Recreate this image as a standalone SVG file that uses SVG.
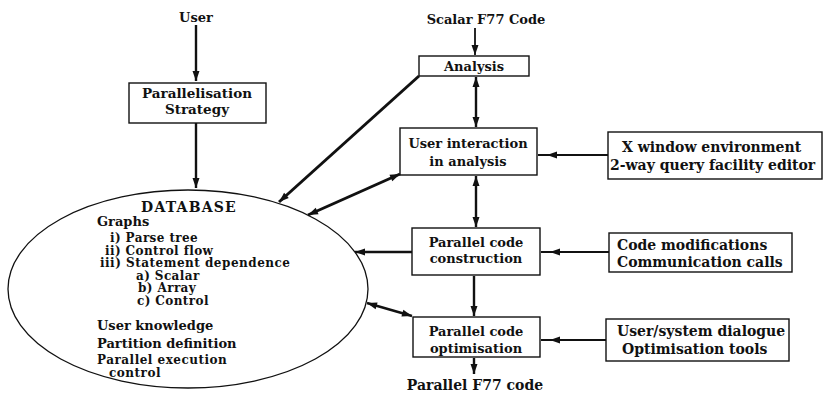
<svg xmlns="http://www.w3.org/2000/svg" width="824" height="395" viewBox="0 0 824 395">
<style>
text{font-family:"DejaVu Serif","Liberation Serif",serif;font-weight:bold;font-size:13px;fill:#111}
.c{text-anchor:middle}
.r{font-size:14px}
.d{font-size:12px}
.box{fill:#fff;stroke:#111;stroke-width:1.4}
.ell{fill:none;stroke:#111;stroke-width:1.3}
.ln{fill:none;stroke:#111;stroke-width:2.4}
.th{fill:none;stroke:#111;stroke-width:3}
.tn{fill:none;stroke:#111;stroke-width:1.8}
</style>
<defs>
<marker id="a" markerUnits="userSpaceOnUse" markerWidth="12" markerHeight="10" viewBox="0 0 12 10" refX="11" refY="5" orient="auto-start-reverse"><path d="M1,1.5 L11,5 L1,8.5 z" fill="#111"/></marker>
<marker id="ao" markerUnits="userSpaceOnUse" markerWidth="22" markerHeight="10" viewBox="0 0 22 10" refX="20" refY="5" orient="auto"><path d="M1,1.5 L11,5 L1,8.5 z" fill="#111"/></marker>
</defs>
<g id="connectors">
<line class="ln" x1="196" y1="25" x2="196" y2="81" marker-end="url(#a)"/>
<line class="ln" x1="196" y1="123" x2="196" y2="188" marker-end="url(#a)"/>
<line class="tn" x1="475" y1="28" x2="475" y2="55" marker-end="url(#a)"/>
<line class="ln" x1="476" y1="77" x2="476" y2="127" marker-start="url(#a)" marker-end="url(#a)"/>
<line class="ln" x1="476" y1="176" x2="476" y2="227" marker-start="url(#a)" marker-end="url(#a)"/>
<line class="ln" x1="474" y1="276" x2="474" y2="316" marker-end="url(#a)"/>
<line class="ln" x1="474" y1="358" x2="474" y2="374" marker-end="url(#a)"/>
<line class="th" x1="419" y1="76" x2="279" y2="202" marker-end="url(#a)"/>
<line class="th" x1="400" y1="174" x2="308" y2="215" marker-start="url(#a)" marker-end="url(#a)"/>
<line class="ln" x1="412" y1="252" x2="355" y2="252" marker-end="url(#a)"/>
<line class="ln" x1="367" y1="303" x2="412" y2="316" marker-start="url(#a)" marker-end="url(#a)"/>
<line class="tn" x1="608" y1="155" x2="538" y2="155" marker-end="url(#ao)"/>
<line class="tn" x1="609" y1="252" x2="541" y2="252" marker-end="url(#ao)"/>
<line class="tn" x1="606" y1="340" x2="541" y2="340" marker-end="url(#ao)"/>
</g>
<g id="user"><text class="c" x="196" y="22">User</text></g>
<g id="scalar"><text class="c" x="486" y="24">Scalar F77 Code</text></g>
<g id="strategy"><rect class="box" x="129" y="83" width="137" height="40"/><text class="c" x="197" y="98" style="font-size:13.5px">Parallelisation</text><text class="c" x="197" y="114" style="font-size:13.5px">Strategy</text></g>
<g id="analysis"><rect class="box" x="419" y="56" width="110" height="20"/><text class="c" x="474" y="71">Analysis</text></g>
<g id="userint"><rect class="box" x="400" y="128" width="137" height="47"/><text class="c" x="468" y="148">User interaction</text><text class="c" x="468" y="166">in analysis</text></g>
<g id="construct"><rect class="box" x="412" y="228" width="128" height="47"/><text class="c" x="476" y="247">Parallel code</text><text class="c" x="476" y="263">construction</text></g>
<g id="optim"><rect class="box" x="413" y="317" width="127" height="40"/><text class="c" x="476" y="336">Parallel code</text><text class="c" x="476" y="353">optimisation</text></g>
<g id="output"><text class="c r" x="475" y="390">Parallel F77 code</text></g>
<g id="xwin"><rect class="box" x="608" y="132" width="214" height="47"/><text class="r" x="622" y="152">X window environment</text><text class="r" x="610" y="170">2-way query facility editor</text></g>
<g id="codemod"><rect class="box" x="609" y="233" width="183" height="39"/><text class="r" x="617" y="250">Code modifications</text><text class="r" x="617" y="267">Communication calls</text></g>
<g id="usersys"><rect class="box" x="606" y="319" width="183" height="42"/><text class="r" x="617" y="336">User/system dialogue</text><text class="r" x="622" y="354">Optimisation tools</text></g>
<g id="database">
<ellipse class="ell" cx="188" cy="289" rx="180" ry="99"/>
<text class="c" x="189" y="212" style="font-size:14px;letter-spacing:1.2px">DATABASE</text>
<text x="97" y="226">Graphs</text>
<text class="d" x="110" y="242" style="letter-spacing:0.4px">i) Parse tree</text>
<text class="d" x="105" y="254.5" style="letter-spacing:0.4px">ii) Control flow</text>
<text class="d" x="100" y="267" style="letter-spacing:0.5px">iii) Statement dependence</text>
<text class="d" x="136" y="279.5" style="letter-spacing:0.4px">a) Scalar</text>
<text class="d" x="138" y="292" style="letter-spacing:0.4px">b) Array</text>
<text class="d" x="137" y="304.5" style="letter-spacing:0.4px">c) Control</text>
<text x="97" y="330">User knowledge</text>
<text x="97" y="348">Partition definition</text>
<text class="d" x="97" y="364" style="letter-spacing:0.5px">Parallel execution</text>
<text class="d" x="109" y="376.5" style="letter-spacing:0.5px">control</text>
</g>
</svg>
